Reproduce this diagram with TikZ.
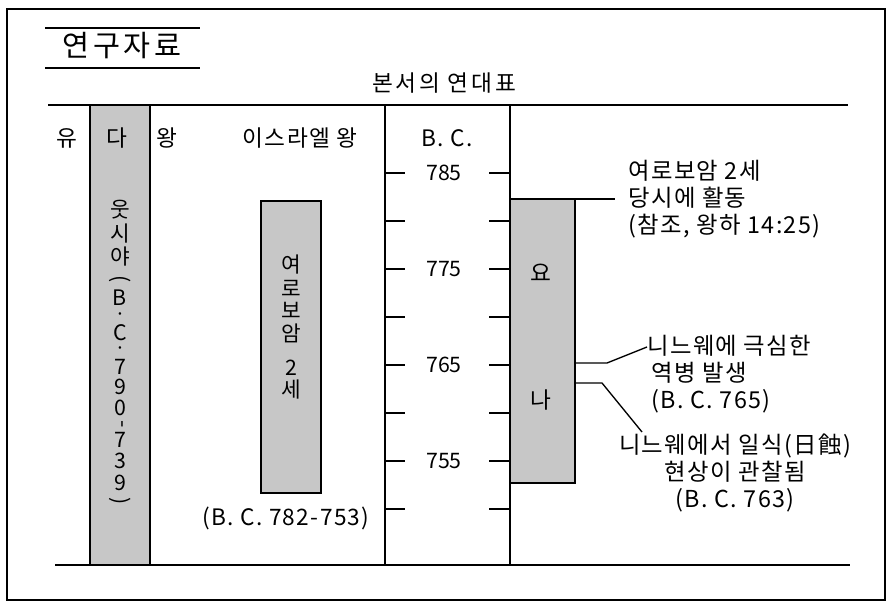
\documentclass[tikz,border=0pt]{standalone}
\usepackage{fontspec}
\setmainfont{Noto Sans CJK KR}
\newfontfamily\krsp[LetterSpace=6]{Noto Sans CJK KR}
\newfontfamily\krwide[LetterSpace=12]{Noto Sans CJK KR}
\begin{document}
\begin{tikzpicture}[x=0.75pt,y=-0.75pt,
  frame/.style={line width=1.1pt},
  rule/.style={line width=1.4pt},
  thin/.style={line width=1pt},
  gbox/.style={draw, line width=1pt, fill=black!22},
  lbl/.style={inner sep=0pt, font=\krsp\fontsize{17}{20}\selectfont},
  num/.style={inner sep=0pt, font=\fontsize{16}{19}\selectfont},
  vch/.style={inner sep=0pt, font=\fontsize{16}{19}\selectfont},
  vdot/.style={inner sep=0pt, font=\bfseries\fontsize{9}{10}\selectfont},
  ann/.style={inner sep=0pt, font=\krsp\fontsize{17.5}{20.5}\selectfont},
  ttl/.style={inner sep=0pt, font=\krwide\fontsize{22}{26}\selectfont},
  sub/.style={inner sep=0pt, font=\krwide\fontsize{17}{20}\selectfont}]
\useasboundingbox (0,0) rectangle (889,605);
\fill[white] (0,0) rectangle (889,605);
% outer frame
\draw[frame] (7,9) rectangle (885,600);
% title
\node[ttl] (title) at (122,46) {연구자료};
\draw[rule] (45,28) -- (200,28);
\draw[rule] (45,68) -- (200,68);
\node[sub] (subtitle) at (444,83) {본서의 연대표};
% boxes
\draw[gbox] (90,105) rectangle (150,565);
\draw[gbox] (261,201) rectangle (321,493);
\draw[gbox] (510,199) rectangle (575,483);
% table rules
\draw[rule] (48,105) -- (848,105);
\draw[rule] (55,565) -- (850,565);
\draw[thin] (385,105) -- (385,565);
\draw[thin] (510,105) -- (510,565);
\draw[thin] (510,199) -- (615,199);
% ticks
\foreach \i in {0,...,7}{
  \draw[thin] (385,173+48*\i) -- (405,173+48*\i);
  \draw[thin] (489,173+48*\i) -- (510,173+48*\i);
}
\foreach \t/\i in {785/0,775/2,765/4,755/6}{
  \node[num] (y\t) at (444,173+48*\i) {\t};
}
% header row
\node[lbl] (hYu) at (67,138) {유};
\node[lbl] (hDa) at (117,138) {다};
\node[lbl] (hWang) at (167,138) {왕};
\node[lbl] (hIsr) at (300,138) {이스라엘 왕};
\node[lbl] (hBC) at (447,138) {B. C.};
% Judah vertical text
\foreach \c/\yy [count=\k] in {웃/210,시/234,야/257,B/298,C/333,7/367,9/387,0/408,7/440,3/461,9/483}{
  \node[vch] (ju\k) at (120,\yy) {\c};
}
\node[vdot] (juDot1) at (120,316) {·};
\node[vdot] (juDot2) at (120,350) {·};
\node[vch] (juOpen) at (120,279) {\rotatebox{-90}{(}};
\node[vch] (juDash) at (120,424) {\rotatebox{-90}{-}};
\node[vch] (juClose) at (120,501) {\rotatebox{-90}{)}};
% Israel vertical text
\foreach \c/\yy [count=\k] in {여/265,로/288,보/310,암/333,2/368,세/390}{
  \node[vch] (is\k) at (291,\yy) {\c};
}
\node[lbl] (isDate) at (286,518) {(B. C. 782-753)};
% Jonah
\node[lbl] (joYo) at (541,273) {요};
\node[lbl] (joNa) at (541,400) {나};
% annotations
\node[ann, anchor=west, align=left] (annA) at (628,199) {여로보암 2세\\당시에 활동\\(참조, 왕하 14:25)};
\node[ann, anchor=west, align=left] (annB) at (647,374) {니느웨에 극심한\\\hspace{3pt}역병 발생\\\hspace{3pt}(B. C. 765)};
\node[ann, align=center] (annC) at (735,473) {니느웨에서 일식(日蝕)\\현상이 관찰됨\\(B. C. 763)};
% connectors
\coordinate (jA) at (575,363);
\coordinate (kA) at (607,363);
\coordinate (eA) at (647,347);
\coordinate (jB) at (575,383);
\coordinate (kB) at (602,383);
\coordinate (eB) at (642,432);
\draw[thin] (jA) -- (kA) -- (eA);
\draw[thin] (jB) -- (kB) -- (eB);
\end{tikzpicture}
\end{document}
